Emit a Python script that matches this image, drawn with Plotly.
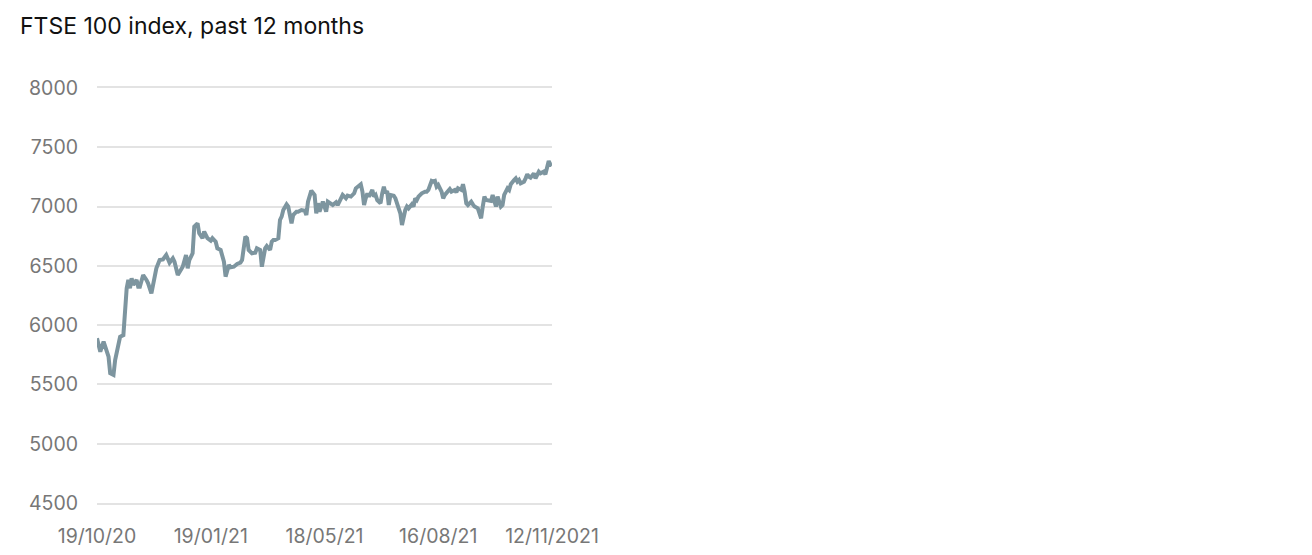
import plotly.graph_objects as go

# trading day number (0 = 19/10/20) and FTSE 100 close
day = [0, 2, 4, 5, 7, 8, 10, 11, 13, 14, 16, 17, 18, 19, 20, 21, 22, 24, 25, 26,
       28, 30, 31, 33, 35, 36, 38, 40, 42, 43, 44, 46, 47, 49, 51, 52, 54, 55, 56, 58,
       59, 61, 62, 64, 65, 67, 69, 70, 72, 73, 75, 77, 78, 80, 81, 83, 85, 87, 88, 90,
       91, 92, 94, 96, 97, 99, 100, 101, 102, 103, 105, 106, 107, 108, 110, 111, 112, 113, 115, 116,
       118, 119, 121, 122, 124, 126, 127, 128, 129, 130, 132, 133, 134, 135, 137, 138, 139, 140, 142, 143,
       145, 146, 148, 149, 151, 152, 154, 156, 157, 159, 160, 161, 162, 163, 164, 165, 167, 168, 169, 170,
       172, 173, 174, 175, 176, 177, 178, 180, 181, 183, 184, 185, 186, 187, 188, 189, 191, 192, 193, 194,
       195, 197, 199, 200, 201, 203, 204, 205, 206, 207, 209, 210, 211, 213, 214, 215, 217, 218, 219, 221,
       222, 223, 224, 225, 227, 228, 229, 231, 232, 233, 234, 235, 236, 238, 239, 240, 241, 242, 243, 245,
       246, 247, 248, 249, 250, 251, 253, 254, 255, 256, 257, 259, 260, 261, 262, 263, 265, 266, 267, 268,
       269, 271, 272, 273, 274, 275, 276]
close = [5889, 5776, 5860, 5818, 5734, 5594, 5580, 5706, 5860, 5902, 5916, 6170, 6311, 6381, 6311, 6395, 6339, 6381, 6324, 6324,
         6423, 6381, 6353, 6268, 6409, 6479, 6549, 6555, 6592, 6549, 6527, 6564, 6535, 6423, 6479, 6493, 6592, 6479, 6549, 6606,
         6830, 6859, 6775, 6733, 6789, 6733, 6713, 6733, 6704, 6648, 6634, 6535, 6409, 6507, 6488, 6493, 6516, 6527, 6549, 6747,
         6733, 6634, 6606, 6611, 6648, 6634, 6493, 6592, 6648, 6668, 6634, 6704, 6718, 6718, 6733, 6887, 6915, 6971, 7019, 7000,
         6859, 6929, 6957, 6957, 6971, 6965, 6929, 7041, 7098, 7134, 7098, 6943, 7028, 6957, 7041, 7000, 6957, 7041, 7028, 7013,
         7036, 7013, 7070, 7098, 7070, 7092, 7084, 7112, 7154, 7182, 7188, 7126, 7013, 7070, 7112, 7084, 7140, 7084, 7098, 7055,
         7028, 7112, 7168, 7112, 7131, 7013, 7098, 7092, 7070, 6985, 6943, 6844, 6915, 6971, 7000, 6985, 7019, 7000, 7070, 7055,
         7084, 7112, 7126, 7126, 7140, 7216, 7210, 7216, 7168, 7182, 7126, 7070, 7098, 7131, 7148, 7126, 7140, 7120, 7154, 7140,
         7188, 7126, 7028, 7013, 7041, 7019, 7000, 6985, 6943, 6901, 7000, 7084, 7055, 7055, 7047, 7098, 7041, 7000, 7084, 7000,
         7013, 7098, 7126, 7154, 7140, 7188, 7224, 7238, 7210, 7224, 7196, 7210, 7238, 7272, 7252, 7244, 7280, 7238, 7266, 7294,
         7280, 7294, 7272, 7336, 7384, 7356, 7347]

tick_days = [0, 69, 138, 207, 276]
tick_labels = ["19/10/20", "19/01/21", "18/05/21", "16/08/21", "12/11/2021"]
y_ticks = [4500, 5000, 5500, 6000, 6500, 7000, 7500, 8000]

grid = "#e3e3e3"

fig = go.Figure()
fig.add_trace(go.Scatter(
    x=day, y=close, mode="lines",
    line=dict(color="#7d959f", width=4),
    hoverinfo="y",
))

# page body has an 8px margin, so everything is shifted back by 8
fig.update_layout(
    width=1312, height=555,
    margin=dict(l=89, r=768, t=80, b=60),
    plot_bgcolor="white", paper_bgcolor="white",
    font=dict(family="Inter", size=19.5, color="#777777"),
    title=dict(text="FTSE 100 index, past 12 months",
               x=12 / 1312, xanchor="left", xref="container",
               y=1 - 18 / 555, yanchor="middle", yref="container",
               font=dict(family="Inter", size=23, color="#111111")),
    showlegend=False,
)
# x axis line (mirrored) stands in for the 4500 and 8000 gridlines at the edges
fig.update_xaxes(range=[0, 276], tickvals=tick_days, ticktext=tick_labels,
                 showgrid=False, zeroline=False, ticks="",
                 showline=True, mirror=True, linecolor=grid, linewidth=2,
                 ticklabelstandoff=15)
fig.update_yaxes(range=[4500, 8000], tickvals=y_ticks,
                 showgrid=True, gridcolor=grid, gridwidth=2,
                 zeroline=False, showline=False, ticks="",
                 ticklabelstandoff=18)

fig.write_html("out.html")
